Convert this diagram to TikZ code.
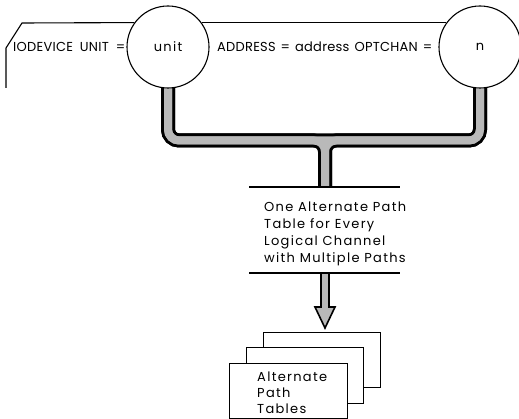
\documentclass[tikz,border=0pt]{standalone}
\usepackage{fontspec}
\setmainfont{Poppins}[LetterSpace=10]
\pgfdeclarelayer{background}
\pgfsetlayers{background,main}
\tikzset{
  lbl/.style={inner sep=0pt, anchor=base west, font=\fontsize{13}{15}\selectfont},
  spread/.style={inner sep=0pt, anchor=base west, text width=#1, align=left,
                 font=\fontsize{13}{15}\selectfont\addfontfeature{LetterSpace=2}},
  ring/.style={circle, draw, line width=1.1pt, fill=white, minimum size=82pt, inner sep=0pt,
               font=\fontsize{13}{15}\selectfont},
  pipeout/.style={line width=14pt, draw=black, rounded corners=11pt},
  pipein/.style={line width=8pt, draw=gray!55, rounded corners=11pt},
  rule/.style={line width=1.3pt},
  card/.style={line width=1.1pt},
  sheet/.style={draw, fill=white, line width=1pt},
}
\begin{document}
\begin{tikzpicture}[x=1pt,y=-1pt]
\useasboundingbox (0,0) rectangle (519,419);

% statement card with the two operand fields
\node[ring] (unit) at (168,47) {unit};
\node[ring] (n) at (480,47) {n};
\node[spread=112pt] (kw1) at (13,52) {IODEVICE\hfill UNIT\hfill =};
\node[spread=215pt] (kw2) at (217,52) {ADDRESS\hfill =\hfill address\hfill OPTCHAN\hfill =};

\coordinate (cardbot) at (6,88);
\coordinate (cardknee) at (6,48);
\coordinate (cardtop) at (22,23);
\draw[card] (cardbot) -- (cardknee) -- (cardtop) -- (unit.144);
\draw[card] (unit.36) -- (n.144);

% description of the generated tables
\coordinate (tj) at (325,140.5);
\coordinate (r1l) at (249,187);
\coordinate (r1r) at (400,187);
\coordinate (tb) at (325,187);
\coordinate (r2l) at (249,273);
\coordinate (r2r) at (400,273);
\draw[rule] (r1l) -- (r1r);
\draw[rule] (r2l) -- (r2r);
\foreach \t [count=\i] in {One Alternate Path, Table for Every, Logical Channel, with Multiple Paths}
  \node[lbl] (d\i) at (264,195+17*\i) {\t};

% merging channel paths
\begin{pgfonlayer}{background}
  \foreach \s in {pipeout, pipein} {
    \draw[\s] (unit.center) |- (tj) -| (n.center);
    \draw[\s] (unit.center) |- (tj) -- (tb);
    \draw[\s] (n.center) |- (tj) -- (tb);
  }
\end{pgfonlayer}

% arrow down to the table stack
\draw[fill=gray!55, line width=1.6pt, line join=miter]
  (321,273) -- (329,273) -- (329,307) -- (335,307) -- (325,328) -- (315,307) -- (321,307) -- cycle;

% stack of alternate path tables
\node[sheet, minimum width=117pt, minimum height=55pt, anchor=north west] (s3) at (263,332) {};
\node[sheet, minimum width=117pt, minimum height=56pt, anchor=north west] (s2) at (246,347) {};
\node[sheet, minimum width=118pt, minimum height=55pt, anchor=north west] (s1) at (229,363) {};
\node[lbl] (t1) at (257,381) {Alternate};
\node[lbl] (t2) at (257,397) {Path};
\node[lbl] (t3) at (257,413) {Tables};
\end{tikzpicture}
\end{document}
